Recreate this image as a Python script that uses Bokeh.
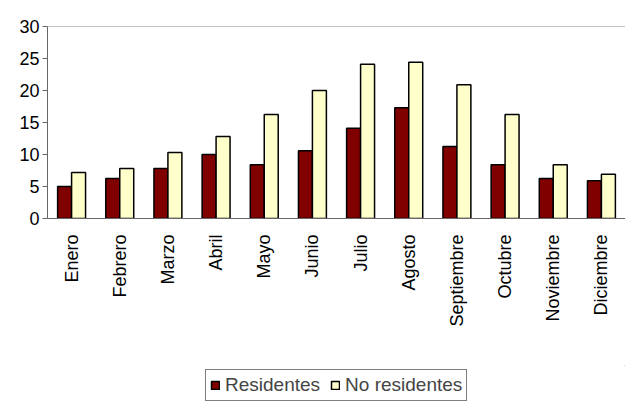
from bokeh.plotting import figure
from bokeh.models import ColumnDataSource, Legend, LegendItem, FactorRange, Span
from bokeh.layouts import column
from bokeh.transform import dodge
from bokeh.embed import file_html
from bokeh.resources import INLINE

meses = ["Enero","Febrero","Marzo","Abril","Mayo","Junio","Julio","Agosto","Septiembre","Octubre","Noviembre","Diciembre"]
residentes = [5.0,6.25,7.8,10.0,8.4,10.6,14.1,17.3,11.25,8.4,6.25,5.9]
no_residentes = [7.2,7.8,10.3,12.8,16.25,20.0,24.1,24.4,20.9,16.25,8.4,6.9]

src = ColumnDataSource(dict(m=meses, r=residentes, n=no_residentes))
p = figure(x_range=FactorRange(*meses, range_padding=0.0), y_range=(0,30), width=625, height=365,
           output_backend="svg", toolbar_location=None, min_border_left=47, min_border_top=26,
           min_border_right=0, min_border_bottom=147)
p.outline_line_color=None
p.xgrid.visible=False; p.ygrid.visible=False
r1 = p.vbar(x=dodge("m",-0.145,range=p.x_range), top="r", width=0.29, source=src, fill_color="#800000", line_color="black", line_width=1.5)
r2 = p.vbar(x=dodge("m",0.145,range=p.x_range), top="n", width=0.29, source=src, fill_color="#FFFFCC", line_color="black", line_width=1.5)
p.add_layout(Span(location=30, dimension="width", line_color="#888888", line_width=1))
p.yaxis.ticker=[0,5,10,15,20,25,30]
for ax in (p.xaxis[0], p.yaxis[0]):
    ax.major_label_text_font="Liberation Sans"
    ax.major_label_text_font_size="18px"
    ax.major_label_text_color="black"
    ax.axis_line_color="#666666"; ax.major_tick_line_color="#666666"
p.yaxis.minor_tick_line_color=None
p.yaxis.major_tick_in=0; p.yaxis.major_tick_out=5
p.yaxis.major_label_standoff=3
p.xaxis.major_label_orientation=1.5708
p.xaxis.major_tick_line_color=None
p.xaxis.major_label_standoff=10

p2 = figure(width=625, height=36, output_backend="svg", toolbar_location=None, x_range=(0,1), y_range=(0,1),
            min_border=0)
p2.outline_line_color=None; p2.axis.visible=False; p2.grid.visible=False
g1 = p2.vbar(x=[5], top=[6], bottom=[5], width=0.1, fill_color="#800000", line_color="black", line_width=1.5)
g2 = p2.vbar(x=[5], top=[6], bottom=[5], width=0.1, fill_color="#FFFFCC", line_color="black", line_width=1.5)
leg = Legend(items=[LegendItem(label="Residentes",renderers=[g1]),LegendItem(label="No residentes",renderers=[g2])],
             orientation="horizontal", location=(158,0), label_text_font="Liberation Sans", label_text_font_size="19px",
             border_line_color="black", border_line_width=1.2, padding=4, spacing=10, glyph_width=10, glyph_height=10, margin=0,
             label_standoff=5, label_height=19)
p2.add_layout(leg,"center")
with open("out.html","w") as f:
    f.write(file_html(column(p, p2, spacing=0), INLINE))
